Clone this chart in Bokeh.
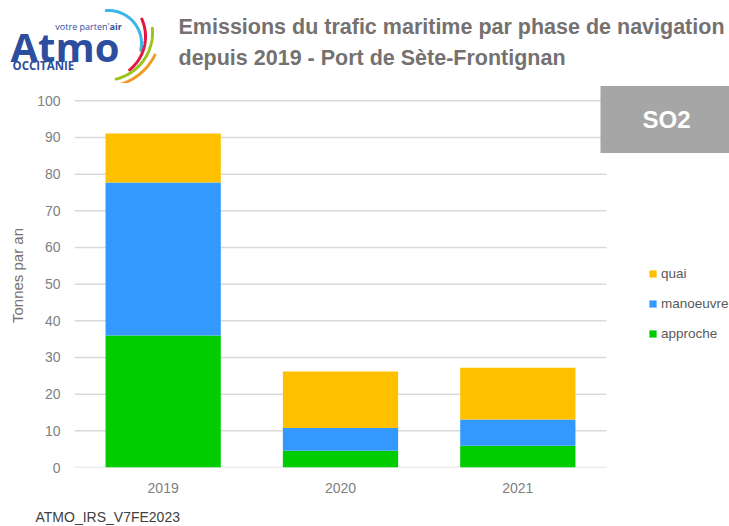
import numpy as np
from bokeh.plotting import figure
from bokeh.models import (Legend, LegendItem, Label, FixedTicker, Range1d,
                          ColumnDataSource)
from bokeh.core.properties import value
from bokeh.embed import file_html
from bokeh.resources import INLINE

# ---------------- data ----------------
years = ["2019", "2020", "2021"]
approche = [36.0, 4.6, 5.9]
manoeuvre = [41.7, 6.2, 7.2]
quai = [13.4, 15.4, 14.1]
phases = ["approche", "manoeuvre", "quai"]
colors = ["#00CC00", "#3399FF", "#FFC000"]
y_ticks = [0, 10, 20, 30, 40, 50, 60, 70, 80, 90, 100]

title1 = "Emissions du trafic maritime par phase de navigation"
title2 = "depuis 2019 - Port de Sète-Frontignan"
polluant = "SO2"
y_label = "Tonnes par an"
footer = "ATMO_IRS_V7FE2023"

FONT = "Liberation Sans"
W = 729
TOP_H = 83
MAIN_H = 418
FOOT_H = 25


def blank(h):
    f = figure(width=W, height=h, x_range=Range1d(0, W),
               y_range=Range1d(h, 0), x_axis_location=None,
               y_axis_location=None, output_backend="svg",
               toolbar_location=None, min_border=0, min_border_left=0,
               min_border_right=0, min_border_top=0, min_border_bottom=0)
    f.grid.visible = False
    f.outline_line_color = None
    return f


# ---------------- header (logo + title) ----------------
top = blank(TOP_H)

# logo arcs (decoration): (cx, cy, r, start deg, end deg, color)
arcs = [
    (108, 43, 33, 94, -12, "#3DB5E6"),
    (102, 36, 43, 24, -51, "#E3173E"),
    (104, 32, 48, 5, -76, "#9AC31C"),
    (104, 30, 56, -26, -80, "#F39A1E"),
]
for cx, cy, r, a0, a1, c in arcs:
    t = np.radians(np.linspace(a0, a1, 60))
    top.line(cx + r * np.cos(t), cy - r * np.sin(t), line_color=c,
             line_width=3, line_cap="round")

logo_blue = "#2D4E9E"
top.text(x=[10], y=[45.5], text=["Atmo"], text_font=value("Open Sans"),
         text_font_style="bold", text_font_size="40px", text_color=logo_blue,
         text_baseline="middle", text_align="left")
top.text(x=[109], y=[26], text=["votre parten'"], text_font=value("Open Sans"),
         text_font_size="9px", text_color=logo_blue,
         text_baseline="middle", text_align="right")
top.text(x=[109], y=[26], text=["air"], text_font=value("Open Sans"),
         text_font_style="bold", text_font_size="9px", text_color=logo_blue,
         text_baseline="middle", text_align="left")
top.text(x=[12], y=[65], text=["OCCITANIE"], text_font=value("Open Sans"),
         text_font_style="bold", text_font_size="11.5px", text_color=logo_blue,
         text_baseline="middle", text_align="left")

title_color = "#757171"
top.text(x=[178, 178], y=[26, 57], text=[title1, title2],
         text_font=value(FONT), text_font_style="bold",
         text_font_size="21.5px", text_color=title_color,
         text_baseline="middle", text_align="left")

# ---------------- main chart ----------------
xpos = list(range(len(years)))
src = ColumnDataSource(dict(x=xpos, approche=approche,
                            manoeuvre=manoeuvre, quai=quai))

LEFT = 74
BAND = 177.33       # px per category
PX_PER_UNIT = 3.6667
frame_h = 467 - TOP_H

p = figure(width=W, height=MAIN_H,
           x_range=Range1d(-0.5, -0.5 + (W - LEFT) / BAND),
           y_range=Range1d(0, frame_h / PX_PER_UNIT), output_backend="svg",
           toolbar_location=None, min_border_left=LEFT, min_border_right=0,
           min_border_top=0, min_border_bottom=MAIN_H - frame_h)
p.outline_line_color = None
p.xgrid.grid_line_color = None
p.ygrid.grid_line_color = None

# horizontal grid lines limited to the category area
p.segment(x0=[-0.5] * len(y_ticks), x1=[len(years) - 0.5] * len(y_ticks),
          y0=y_ticks, y1=y_ticks, line_color="#D9D9D9", line_width=1.5)

rs = p.vbar_stack(phases, x="x", width=0.65, color=colors,
                  line_color=None, source=src)

# axes
for ax in (p.xaxis, p.yaxis):
    ax.axis_line_color = None
    ax.major_tick_line_color = None
    ax.minor_tick_line_color = None
    ax.major_tick_out = 0
    ax.major_tick_in = 0
    ax.minor_tick_out = 0
    ax.minor_tick_in = 0
    ax.major_label_text_font = FONT
    ax.major_label_text_font_size = "14px"
    ax.major_label_text_color = "#808080"

p.yaxis.ticker = FixedTicker(ticks=y_ticks)
p.yaxis.major_label_standoff = 14
p.yaxis.axis_label = y_label
p.yaxis.axis_label_text_font = FONT
p.yaxis.axis_label_text_font_size = "15px"
p.yaxis.axis_label_text_font_style = "normal"
p.yaxis.axis_label_text_color = "#767171"
p.yaxis.axis_label_standoff = 8

p.xaxis.ticker = FixedTicker(ticks=xpos)
p.xaxis.major_label_overrides = {i: y for i, y in zip(xpos, years)}
p.xaxis.major_label_standoff = 15

# legend (top to bottom: quai, manoeuvre, approche)
items = [LegendItem(label=phases[i], renderers=[rs[i]]) for i in (2, 1, 0)]
legend = Legend(items=items, location=(648 - LEFT, 124), padding=0, margin=0,
                border_line_color=None, background_fill_alpha=0,
                glyph_width=9, glyph_height=9, label_standoff=4,
                label_height=20, spacing=10,
                label_text_font=FONT, label_text_font_size="13.5px",
                label_text_color="#595959")
p.add_layout(legend, "center")

# pollutant box
p.add_layout(Label(x=666 - LEFT, y=frame_h - (119 - TOP_H), x_units="screen",
                   y_units="screen", text=polluant, text_align="center",
                   text_baseline="middle", text_font=FONT,
                   text_font_style="bold", text_font_size="24px",
                   text_color="white", background_fill_color="#A6A6A6",
                   padding=(42, 20)))

# ---------------- footer ----------------
foot = blank(FOOT_H)
foot.text(x=[35], y=[15.5], text=[footer], text_font=value(FONT),
          text_font_size="14px", text_color="#404040",
          text_baseline="middle", text_align="left")

open("out.html", "w").write(file_html([top, p, foot], INLINE))
